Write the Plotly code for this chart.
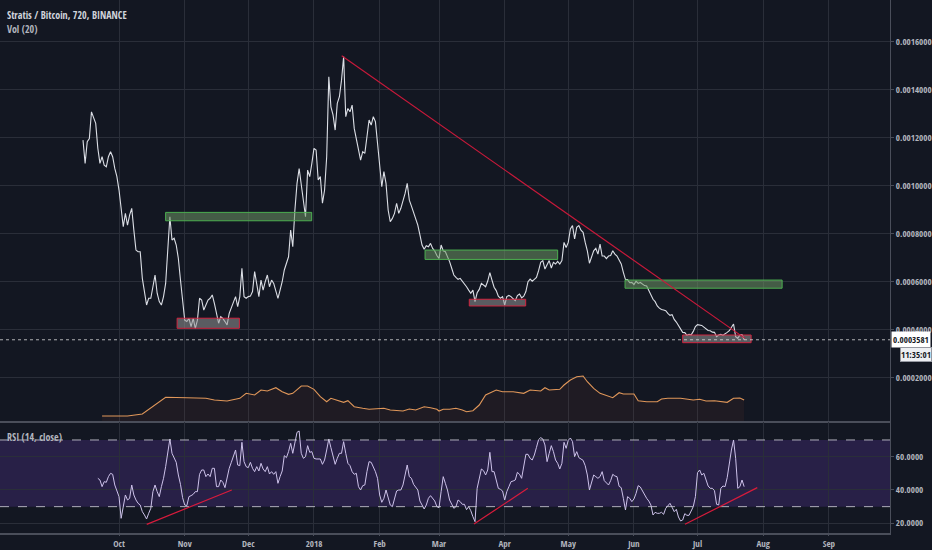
import pandas as pd
import plotly.graph_objects as go

# ---------------- data ----------------
price_start = "2017-09-14"
price = [
    0.001190, 0.001093, 0.001184, 0.001197, 0.001308, 0.001281, 0.001260, 0.001156, 0.001093, 0.001121,
    0.001086, 0.001079, 0.001121, 0.001142, 0.001121, 0.001072, 0.001038, 0.000982, 0.000899, 0.000829,
    0.000885, 0.000836, 0.000878, 0.000906, 0.000815, 0.000732, 0.000725, 0.000725, 0.000614, 0.000559,
    0.000503, 0.000531, 0.000531, 0.000579, 0.000628, 0.000552, 0.000517, 0.000503, 0.000538, 0.000593,
    0.000746, 0.000871, 0.000774, 0.000781, 0.000753, 0.000697, 0.000607, 0.000531, 0.000440, 0.000434,
    0.000447, 0.000413, 0.000447, 0.000406, 0.000440, 0.000531, 0.000524, 0.000482, 0.000503, 0.000524,
    0.000531, 0.000545, 0.000510, 0.000461, 0.000427, 0.000454, 0.000447, 0.000434, 0.000420, 0.000468,
    0.000489, 0.000517, 0.000538, 0.000496, 0.000538, 0.000656, 0.000538, 0.000531, 0.000538, 0.000540,
    0.000559, 0.000642, 0.000579, 0.000538, 0.000607, 0.000565, 0.000600, 0.000628, 0.000579, 0.000607,
    0.000593, 0.000559, 0.000531, 0.000565, 0.000600, 0.000649, 0.000677, 0.000704, 0.000815, 0.000746,
    0.000899, 0.001010, 0.001072, 0.001010, 0.000940, 0.000871, 0.001065, 0.001038, 0.001093, 0.001156,
    0.001149, 0.001024, 0.001038, 0.000927, 0.000982, 0.001121, 0.001454, 0.001329, 0.001295, 0.001232,
    0.001343, 0.001371, 0.001440, 0.001538, 0.001288, 0.001322, 0.001308, 0.001336, 0.001239, 0.001197,
    0.001163, 0.001107, 0.001142, 0.001135, 0.001204, 0.001274, 0.001253, 0.001288, 0.001267, 0.001177,
    0.001093, 0.000996, 0.001059, 0.001010, 0.000899, 0.000850, 0.000864, 0.000885, 0.000927, 0.000885,
    0.000906, 0.000934, 0.000968, 0.001010, 0.000940, 0.000915, 0.000885, 0.000864, 0.000836, 0.000795,
    0.000753, 0.000735, 0.000750, 0.000746, 0.000760, 0.000739, 0.000728, 0.000709, 0.000697, 0.000753,
    0.000729, 0.000725, 0.000707, 0.000684, 0.000656, 0.000628, 0.000618, 0.000610, 0.000614, 0.000603,
    0.000593, 0.000579, 0.000565, 0.000552, 0.000565, 0.000517, 0.000554, 0.000568, 0.000593, 0.000586,
    0.000579, 0.000603, 0.000638, 0.000607, 0.000577, 0.000563, 0.000540, 0.000531, 0.000538, 0.000503,
    0.000538, 0.000543, 0.000538, 0.000529, 0.000521, 0.000542, 0.000549, 0.000533, 0.000540, 0.000559,
    0.000600, 0.000611, 0.000602, 0.000610, 0.000618, 0.000646, 0.000681, 0.000688, 0.000653, 0.000671,
    0.000688, 0.000657, 0.000681, 0.000674, 0.000685, 0.000674, 0.000688, 0.000764, 0.000743, 0.000764,
    0.000820, 0.000834, 0.000778, 0.000827, 0.000834, 0.000815, 0.000806, 0.000764, 0.000729, 0.000677,
    0.000702, 0.000729, 0.000739, 0.000715, 0.000757, 0.000707, 0.000707, 0.000696, 0.000707, 0.000709,
    0.000729, 0.000715, 0.000707, 0.000692, 0.000674, 0.000639, 0.000609, 0.000609, 0.000596, 0.000597,
    0.000588, 0.000602, 0.000593, 0.000597, 0.000590, 0.000584, 0.000582, 0.000563, 0.000539, 0.000527,
    0.000517, 0.000499, 0.000490, 0.000484, 0.000482, 0.000479, 0.000468, 0.000460, 0.000463, 0.000443,
    0.000432, 0.000418, 0.000403, 0.000389, 0.000388, 0.000377, 0.000381, 0.000379, 0.000393, 0.000413,
    0.000421, 0.000421, 0.000418, 0.000411, 0.000404, 0.000397, 0.000396, 0.000390, 0.000389, 0.000371,
    0.000378, 0.000381, 0.000377, 0.000382, 0.000389, 0.000396, 0.000410, 0.000424, 0.000371, 0.000364,
    0.000378, 0.000380, 0.0003581,
]

rsi_start = "2017-09-21"
rsi = [
    47.0, 46.0, 42.0, 45.0, 44.6, 48.0, 50.0, 49.4, 43.0, 39.0,
    36.0, 23.0, 30.0, 37.0, 34.0, 35.0, 43.0, 37.0, 34.0, 32.0,
    31.0, 27.0, 25.0, 22.6, 26.0, 29.0, 39.0, 43.0, 39.0, 36.0,
    42.0, 47.0, 54.0, 62.0, 70.6, 62.0, 59.0, 56.6, 49.0, 43.4,
    35.4, 31.0, 30.6, 36.0, 36.6, 37.4, 39.0, 39.0, 49.4, 52.0,
    52.0, 48.0, 49.6, 48.0, 53.0, 53.0, 42.0, 42.0, 46.0, 44.6,
    41.4, 47.4, 53.0, 56.6, 60.0, 64.0, 55.0, 54.6, 68.6, 57.0,
    54.0, 53.4, 56.6, 53.0, 51.0, 54.0, 51.4, 56.0, 52.6, 51.0,
    54.0, 49.6, 51.0, 49.4, 51.0, 44.0, 48.0, 51.4, 60.6, 59.4,
    63.0, 68.0, 62.0, 68.0, 74.6, 75.4, 62.0, 59.0, 60.0, 66.6,
    62.6, 63.0, 59.0, 58.6, 58.6, 58.6, 55.4, 58.0, 64.0, 70.6,
    65.4, 60.0, 55.4, 59.0, 62.0, 62.0, 69.0, 62.0, 56.0, 54.6,
    51.0, 49.4, 50.0, 42.0, 40.0, 42.6, 43.0, 51.0, 57.0, 56.6,
    54.0, 51.0, 47.0, 37.0, 32.6, 35.0, 40.0, 35.0, 31.0, 30.0,
    34.0, 39.4, 40.0, 40.0, 43.0, 49.0, 55.0, 48.0, 47.0, 43.4,
    41.4, 40.0, 33.4, 31.4, 28.6, 31.0, 35.0, 36.6, 35.0, 33.4,
    30.0, 29.4, 39.0, 48.0, 44.0, 40.0, 34.0, 31.0, 29.0, 30.0,
    34.0, 33.0, 31.4, 31.4, 28.2, 30.0, 27.6, 24.0, 21.0, 41.0,
    46.0, 52.6, 51.6, 49.0, 52.0, 62.6, 51.0, 51.0, 46.0, 41.0,
    40.4, 39.4, 34.0, 39.0, 42.0, 45.0, 45.4, 46.0, 50.6, 49.4,
    47.0, 54.0, 61.4, 61.4, 59.0, 58.0, 61.0, 65.6, 70.2, 71.4,
    70.6, 67.0, 57.0, 62.0, 66.6, 63.0, 58.0, 56.0, 52.6, 56.0,
    68.6, 65.0, 69.8, 71.2, 69.0, 60.0, 63.0, 59.4, 58.6, 57.8,
    54.6, 49.0, 40.0, 44.0, 49.0, 48.0, 47.0, 48.0, 51.0, 45.6,
    44.2, 43.0, 45.6, 49.4, 48.4, 48.0, 42.2, 41.4, 35.0, 28.0,
    36.0, 35.0, 33.0, 34.6, 38.0, 42.6, 41.8, 39.4, 37.0, 35.0,
    33.4, 31.0, 25.0, 26.6, 26.0, 26.0, 26.6, 25.4, 29.0, 30.2,
    32.0, 29.6, 27.0, 28.4, 23.8, 21.4, 22.0, 25.8, 24.8, 24.8,
    28.0, 30.0, 36.0, 50.4, 52.0, 49.0, 50.0, 46.0, 42.4, 41.0,
    41.0, 39.6, 31.4, 31.0, 41.0, 42.4, 42.0, 47.4, 56.0, 64.0,
    70.0, 59.0, 41.0, 42.0, 46.0, 42.0,
]

vol_dates = [
    "2017-09-23", "2017-10-05", "2017-10-12", "2017-10-23", "2017-11-02", "2017-11-11",
    "2017-11-15", "2017-11-21", "2017-11-27", "2017-11-30", "2017-12-04", "2017-12-07",
    "2017-12-10", "2017-12-14", "2017-12-17", "2017-12-20", "2017-12-22", "2017-12-26",
    "2017-12-29", "2018-01-01", "2018-01-04", "2018-01-07", "2018-01-09", "2018-01-12",
    "2018-01-15", "2018-01-17", "2018-01-20", "2018-01-24", "2018-01-27", "2018-02-03",
    "2018-02-06", "2018-02-12", "2018-02-15", "2018-02-18", "2018-02-22", "2018-02-25",
    "2018-02-28", "2018-03-01", "2018-03-03", "2018-03-06", "2018-03-09", "2018-03-12",
    "2018-03-14", "2018-03-17", "2018-03-20", "2018-03-23", "2018-03-28", "2018-03-31",
    "2018-04-05", "2018-04-10", "2018-04-13", "2018-04-18", "2018-04-20", "2018-04-22",
    "2018-04-27", "2018-04-29", "2018-05-02", "2018-05-05", "2018-05-08", "2018-05-10",
    "2018-05-13", "2018-05-16", "2018-05-21", "2018-05-22", "2018-05-25", "2018-05-27",
    "2018-06-01", "2018-06-03", "2018-06-07", "2018-06-12", "2018-06-14", "2018-06-17",
    "2018-06-23", "2018-06-29", "2018-07-02", "2018-07-05", "2018-07-09", "2018-07-12",
    "2018-07-15", "2018-07-18", "2018-07-21", "2018-07-23",
]
vol_ma = [
    50, 50, 70, 237, 233, 227,
    210, 200, 227, 277, 260, 310,
    300, 333, 293, 267, 277, 350,
    350, 317, 243, 193, 227, 210,
    187, 203, 143, 127, 117, 127,
    110, 100, 120, 110, 143, 133,
    117, 100, 117, 117, 127, 110,
    93, 103, 160, 260, 310, 293,
    293, 277, 310, 300, 333, 310,
    317, 360, 410, 443, 450, 393,
    327, 277, 243, 233, 283, 270,
    270, 203, 193, 193, 220, 227,
    227, 210, 217, 200, 203, 193,
    187, 227, 230, 210,
]

month_ticks = ["2017-10-01", "2017-11-01", "2017-12-01", "2018-01-01", "2018-02-01", "2018-03-01",
               "2018-04-01", "2018-05-01", "2018-06-01", "2018-07-01", "2018-08-01", "2018-09-01"]
month_labels = ["Oct", "Nov", "Dec", "2018", "Feb", "Mar", "Apr", "May", "Jun", "Jul", "Aug", "Sep"]
price_ticks = [0.0002, 0.0004, 0.0006, 0.0008, 0.0010, 0.0012, 0.0014, 0.0016]
rsi_ticks = [20, 40, 60]
rsi_upper, rsi_lower = 70, 30

# drawn zones
res_start = ["2017-10-23 00:00", "2018-02-22 10:00", "2018-05-27 19:00"]
res_end = ["2017-12-30 22:00", "2018-04-26 00:00", "2018-08-09 22:00"]
res_low = [0.000854, 0.000693, 0.000573]
res_high = [0.000889, 0.000732, 0.000607]
sup_start = ["2017-10-28 10:00", "2018-03-15 07:00", "2018-06-24 00:00"]
sup_end = ["2017-11-26 19:00", "2018-04-10 22:00", "2018-07-26 07:00"]
sup_low = [0.000406, 0.000499, 0.000346]
sup_high = [0.000448, 0.000527, 0.000378]

trend_dates = ["2018-01-14 02:00", "2018-07-23 10:00"]
trend_prices = [0.001542, 0.000364]

rsi_tl_start = ["2017-10-14 02:00", "2018-03-17 12:00", "2018-06-25 02:00"]
rsi_tl_end = ["2017-11-23 05:00", "2018-04-11 22:00", "2018-07-29 05:00"]
rsi_tl_v0 = [19.4, 19.6, 19.4]
rsi_tl_v1 = [40.0, 41.0, 41.4]

# ---------------- figure ----------------
price_dates = pd.date_range(price_start, periods=len(price), freq="D")
rsi_dates = pd.date_range(rsi_start, periods=len(rsi), freq="D")
last_price = price[-1]

BG = "#131722"
GRID = "#2a2e39"
AXLINE = "#4a4e5a"
TXT = "#b2b5be"
FONT = "Open Sans Condensed, Open Sans, Liberation Sans, sans-serif"

fig = go.Figure()

fig.add_trace(go.Scatter(
    x=pd.to_datetime(vol_dates), y=vol_ma, mode="lines", xaxis="x", yaxis="y3",
    line=dict(color="#e0975a", width=1.1), fill="tozeroy",
    fillcolor="rgba(140,70,50,0.10)", hoverinfo="skip", showlegend=False))

fig.add_trace(go.Scatter(
    x=price_dates, y=price, mode="lines", xaxis="x", yaxis="y",
    line=dict(color="#dcdfe6", width=1.1), showlegend=False))

fig.add_trace(go.Scatter(
    x=rsi_dates, y=rsi, mode="lines", xaxis="x2", yaxis="y2",
    line=dict(color="#cdc2ea", width=1), showlegend=False))

shapes = []
for x0, x1, y0, y1 in zip(res_start, res_end, res_low, res_high):
    shapes.append(dict(type="rect", xref="x", yref="y", x0=x0, x1=x1, y0=y0, y1=y1,
                       fillcolor="rgba(110,150,100,0.55)", line=dict(color="#4caf50", width=1),
                       layer="above"))
for x0, x1, y0, y1 in zip(sup_start, sup_end, sup_low, sup_high):
    shapes.append(dict(type="rect", xref="x", yref="y", x0=x0, x1=x1, y0=y0, y1=y1,
                       fillcolor="rgba(150,150,150,0.55)", line=dict(color="#d0243f", width=1),
                       layer="above"))
shapes.append(dict(type="line", xref="x", yref="y", x0=trend_dates[0], x1=trend_dates[1],
                   y0=trend_prices[0], y1=trend_prices[1], line=dict(color="#c8193a", width=1.2)))
# last price dotted line
shapes.append(dict(type="line", xref="paper", yref="y", x0=0, x1=1, y0=last_price, y1=last_price,
                   line=dict(color="rgba(230,230,230,0.75)", width=1, dash="dot")))
# RSI band and levels
shapes.append(dict(type="rect", xref="paper", yref="y2", x0=0, x1=1, y0=rsi_lower, y1=rsi_upper,
                   fillcolor="rgba(103,58,183,0.25)", line=dict(width=0), layer="below"))
for lv in (rsi_upper, rsi_lower):
    shapes.append(dict(type="line", xref="paper", yref="y2", x0=0, x1=1, y0=lv, y1=lv,
                       line=dict(color="rgba(200,200,210,0.85)", width=1, dash="dash")))
for x0, x1, v0, v1 in zip(rsi_tl_start, rsi_tl_end, rsi_tl_v0, rsi_tl_v1):
    shapes.append(dict(type="line", xref="x2", yref="y2", x0=x0, x1=x1, y0=v0, y1=v1,
                       line=dict(color="#d81b3c", width=1.2)))

annotations = [
    dict(text="Stratis / Bitcoin, 720, BINANCE", xref="paper", yref="paper", x=0.006, y=0.972,
         xanchor="left", yanchor="middle", showarrow=False, font=dict(size=10, color="#d1d4dc", family=FONT)),
    dict(text="Vol (20)", xref="paper", yref="paper", x=0.006, y=0.9456,
         xanchor="left", yanchor="middle", showarrow=False, font=dict(size=10, color="#b2b5be", family=FONT)),
    dict(text="RSI (14, close)", xref="paper", yref="paper", x=0.006, y=0.180,
         xanchor="left", yanchor="middle", showarrow=False, font=dict(size=10, color="#b2b5be", family=FONT)),
    dict(text=f"{last_price:.7f}", xref="paper", yref="y", x=1.0, y=last_price, xanchor="left",
         xshift=1, yanchor="middle", showarrow=False, bgcolor="#ffffff", borderpad=1,
         font=dict(size=9, color="#131722", family=FONT)),
    dict(text="11:35:01", xref="paper", yref="y", x=1.0, y=last_price, xanchor="left", xshift=10,
         yshift=-15, yanchor="middle", showarrow=False, bgcolor="#eceef2", bordercolor="#9598a1",
         borderwidth=1, borderpad=0, font=dict(size=9, color="#131722", family=FONT)),
]

x_range = ["2017-08-05 20:00", "2018-09-29 20:00"]
price_dom = [0.2101, 1.0]
rsi_dom = [0.0, 0.2083]

fig.update_layout(
    width=932, height=550,
    margin=dict(l=0, r=42, t=0, b=17),
    paper_bgcolor=BG, plot_bgcolor=BG,
    showlegend=False, shapes=shapes, annotations=annotations,
    font=dict(family=FONT, size=9, color=TXT),
    xaxis=dict(domain=[0, 1], anchor="y", range=x_range, type="date",
               tickvals=month_ticks, showticklabels=False, ticks="",
               showgrid=True, gridcolor=GRID, gridwidth=1, zeroline=False,
               showline=True, linecolor=AXLINE, linewidth=2, automargin=False),
    yaxis=dict(domain=price_dom, anchor="x", side="right", range=[0.0000196, 0.001774],
               tickvals=price_ticks, tickformat=".7f", ticks="outside", ticklen=3, tickcolor=AXLINE,
               showgrid=True, gridcolor=GRID, zeroline=False,
               showline=True, linecolor=AXLINE, linewidth=1, automargin=False,
               tickfont=dict(size=9, color=TXT, family=FONT)),
    yaxis3=dict(overlaying="y", anchor="x", range=[0, 4210], visible=False),
    xaxis2=dict(domain=[0, 1], anchor="y2", matches="x", type="date",
                tickvals=month_ticks, ticktext=month_labels, ticks="outside", ticklen=1,
                tickcolor=AXLINE, showgrid=True, gridcolor=GRID, zeroline=False,
                showline=True, linecolor=AXLINE, linewidth=2, automargin=False,
                tickfont=dict(size=9, color=TXT, family=FONT)),
    yaxis2=dict(domain=rsi_dom, anchor="x2", side="right", range=[14.2, 80.8],
                tickvals=rsi_ticks, tickformat=".4f", ticks="outside", ticklen=3, tickcolor=AXLINE,
                showgrid=True, gridcolor=GRID, zeroline=False,
                showline=True, linecolor=AXLINE, linewidth=1, automargin=False,
                tickfont=dict(size=9, color=TXT, family=FONT)),
)

fig.write_html(
    "out.html",
    config={"displayModeBar": False},
    post_script=(
        "document.body.style.margin='0px';document.body.style.overflow='hidden';"
        "document.body.style.background='#131722';"
        "var st=document.createElement('style');"
        "st.textContent='svg text{font-stretch:75%;}';"
        "document.head.appendChild(st);"
    ),
)
